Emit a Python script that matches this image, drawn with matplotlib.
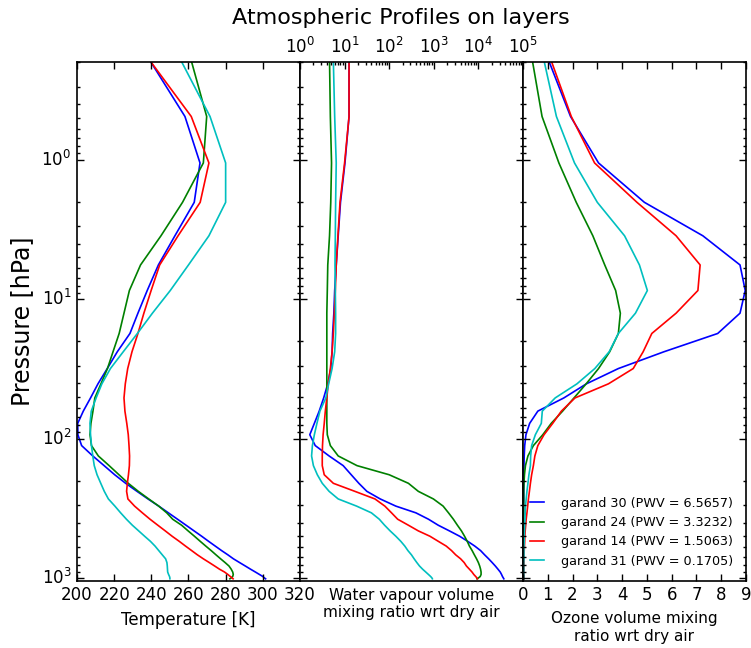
#!/usr/bin/env python3
# Atmospheric profiles (Garand) on RTTOV layers: T, H2O, O3
import numpy as np
import matplotlib
matplotlib.use('Agg')
import matplotlib.pyplot as plt

plt.style.use('classic')
plt.rcParams['figure.facecolor'] = 'white'
plt.rcParams['savefig.facecolor'] = 'white'

# layer mean pressures [hPa]
pressure = [0.195, 0.49, 1.055, 2.02, 3.51, 5.68, 8.66, 12.59, 17.6, 23.8,
            31.4, 40.4, 51.0, 63.4, 77.6, 93.6, 112.0, 132.9, 155.9, 181.2,
            208.7, 238.3, 270.2, 304.1, 339.9, 377.5, 416.9, 457.7, 500.0, 543.5,
            588.1, 633.5, 679.6, 725.9, 772.1, 817.5, 861.4, 902.6, 940.0, 971.7,
            995.7, 1009.3]

names = ['garand 30 (PWV = 6.5657)', 'garand 24 (PWV = 3.3232)',
         'garand 14 (PWV = 1.5063)', 'garand 31 (PWV = 0.1705)']
colors = ['b', 'g', 'r', 'c']

# temperature [K]
temp_g30 = [239.3, 258.1, 266.2, 263.1, 252.7, 243.8, 237.8, 232.8, 228.5, 221.7,
            216.3, 211.3, 207.3, 203.4, 200.4, 200.5, 202.5, 208.5, 214.6, 220.3,
            226.2, 232.3, 238.2, 244.0, 249.2, 254.1, 258.7, 263.0, 267.1, 270.8,
            274.4, 277.8, 281.2, 284.2, 287.5, 290.6, 293.4, 296.0, 298.2, 300.0,
            300.9, 301.5]
temp_g24 = [261.5, 269.8, 268.0, 256.8, 245.2, 234.2, 228.2, 225.3, 222.7, 219.4,
            216.4, 212.9, 209.6, 208.6, 207.5, 207.0, 207.8, 211.5, 217.3, 222.6,
            227.6, 233.0, 238.6, 244.0, 248.3, 251.5, 256.3, 259.8, 263.2, 266.3,
            269.3, 272.2, 274.8, 277.3, 279.7, 281.8, 283.0, 283.8, 284.1, 283.8,
            283.0, 282.3]
temp_g14 = [239.3, 261.5, 271.0, 266.3, 254.4, 244.5, 239.9, 236.0, 232.8, 229.6,
            227.3, 226.0, 225.3, 225.8, 226.8, 227.6, 228.0, 228.3, 228.2, 227.7,
            227.1, 226.7, 227.4, 231.0, 235.2, 239.3, 243.5, 247.5, 251.2, 255.0,
            258.4, 261.7, 264.8, 268.0, 271.2, 274.1, 276.7, 279.4, 281.2, 282.5,
            283.5, 284.0]
temp_g31 = [256.0, 271.6, 280.0, 280.0, 271.0, 260.0, 250.2, 240.6, 232.5, 224.9,
            218.0, 213.4, 210.3, 207.7, 207.0, 207.3, 207.8, 208.5, 209.3, 210.8,
            212.8, 214.7, 216.9, 220.4, 223.5, 226.6, 229.8, 233.2, 236.4, 239.5,
            242.0, 244.0, 245.9, 247.7, 248.4, 248.6, 248.7, 248.8, 249.3, 249.8,
            250.0, 250.0]

# water vapour [ppmv]
wv_g30 = [12.6, 12.6, 10.2, 8.1, 7.2, 6.5, 6.0, 5.75, 5.4, 5.25,
          4.9, 4.2, 3.4, 2.7, 2.1, 1.66, 2.2, 4.5, 9.3, 14.1,
          20.9, 31.6, 63.0, 141.0, 398.0, 760.0, 1260.0, 2240.0, 3800.0, 5750.0,
          8300.0, 11200.0, 13800.0, 17000.0, 20400.0, 24000.0, 27500.0, 30900.0, 33100.0, 34700.0,
          36300.0, 37200.0]
wv_g24 = [4.6, 4.8, 5.1, 4.9, 4.6, 4.2, 4.1, 4.0, 4.0, 4.0,
          4.0, 4.0, 4.0, 4.0, 4.0, 4.1, 4.8, 7.2, 19.0, 100.0,
          270.0, 450.0, 980.0, 1620.0, 2140.0, 2750.0, 3390.0, 4170.0, 4900.0, 5620.0,
          6300.0, 7240.0, 8130.0, 9100.0, 10000.0, 10700.0, 11200.0, 11500.0, 11500.0, 11000.0,
          10000.0, 9300.0]
wv_g14 = [12.6, 12.6, 10.0, 7.9, 7.1, 6.5, 6.2, 5.9, 5.6, 5.25,
          4.8, 4.3, 4.0, 3.7, 3.5, 3.3, 3.2, 3.16, 3.16, 3.5,
          5.6, 17.0, 48.0, 80.0, 113.0, 155.0, 270.0, 450.0, 820.0, 1260.0,
          1900.0, 2500.0, 3100.0, 4000.0, 4800.0, 5400.0, 6300.0, 7200.0, 7900.0, 8700.0,
          9300.0, 9550.0]
wv_g31 = [5.6, 6.0, 6.5, 6.3, 6.2, 6.1, 6.2, 6.3, 6.3, 6.0,
          5.25, 4.4, 3.8, 2.8, 2.4, 2.1, 1.9, 1.82, 2.0, 2.45,
          3.16, 4.5, 7.2, 18.6, 40.0, 60.0, 79.0, 105.0, 141.0, 182.0,
          224.0, 263.0, 316.0, 363.0, 417.0, 479.0, 562.0, 661.0, 760.0, 850.0,
          910.0, 930.0]

# ozone [ppmv]
o3_g30 = [1.04, 1.92, 3.05, 4.9, 7.26, 8.76, 8.97, 8.76, 7.86, 5.69,
          3.85, 2.56, 1.65, 0.6, 0.27, 0.12, 0.07, 0.05, 0.04, 0.03,
          0.03, 0.03, 0.03, 0.02, 0.02, 0.02, 0.02, 0.02, 0.02, 0.02,
          0.02, 0.02, 0.02, 0.02, 0.02, 0.02, 0.02, 0.02, 0.02, 0.02,
          0.02, 0.02]
o3_g24 = [0.38, 0.77, 1.45, 2.15, 2.82, 3.3, 3.74, 3.93, 3.85, 3.5,
          3.05, 2.55, 2.06, 1.6, 1.14, 0.8, 0.42, 0.2, 0.1, 0.06,
          0.04, 0.03, 0.03, 0.03, 0.03, 0.02, 0.02, 0.02, 0.02, 0.02,
          0.02, 0.02, 0.02, 0.02, 0.02, 0.02, 0.02, 0.02, 0.02, 0.02,
          0.02, 0.02]
o3_g14 = [1.14, 1.95, 2.89, 4.6, 6.18, 7.15, 7.06, 6.18, 5.2, 4.85,
          4.45, 3.45, 2.1, 1.55, 1.2, 0.85, 0.6, 0.48, 0.42, 0.35,
          0.3, 0.26, 0.22, 0.19, 0.16, 0.13, 0.11, 0.09, 0.075, 0.07,
          0.06, 0.05, 0.045, 0.04, 0.04, 0.035, 0.03, 0.03, 0.03, 0.03,
          0.03, 0.03]
o3_g31 = [0.85, 1.35, 2.08, 3.0, 4.1, 4.7, 5.02, 4.54, 3.85, 3.48,
          2.9, 2.18, 1.3, 0.78, 0.74, 0.5, 0.35, 0.31, 0.3, 0.24,
          0.2, 0.16, 0.13, 0.1, 0.09, 0.08, 0.07, 0.06, 0.05, 0.05,
          0.04, 0.04, 0.04, 0.04, 0.03, 0.03, 0.03, 0.03, 0.03, 0.03,
          0.03, 0.03]

temps = [temp_g30, temp_g24, temp_g14, temp_g31]
wvs = [wv_g30, wv_g24, wv_g14, wv_g31]
o3s = [o3_g30, o3_g24, o3_g14, o3_g31]


def plotProfiles():
    fig, (ax1, ax2, ax3) = plt.subplots(1, 3, sharey=True, figsize=(7.51, 6.48), dpi=100)
    fig.subplots_adjust(left=0.1025, right=0.9933, bottom=0.104, top=0.904, wspace=0)
    fig.suptitle('Atmospheric Profiles on layers', fontsize=16, x=0.534, y=0.988)

    for i in range(4):
        ax1.plot(temps[i], pressure, color=colors[i], lw=1.2, label=names[i])
        ax2.plot(wvs[i], pressure, color=colors[i], lw=1.2, label=names[i])
        ax3.plot(o3s[i], pressure, color=colors[i], lw=1.2, label=names[i])

    ax1.set_yscale('log')
    ax1.set_ylim(1040, 0.2)
    ax1.set_ylabel('Pressure [hPa]', fontsize=17)

    ax1.set_xlim(200, 320)
    ax1.set_xticks(np.arange(200, 321, 20))
    ax1.set_xlabel('Temperature [K]', fontsize=12)

    ax2.set_xscale('log')
    ax2.set_xlim(1, 1e5)
    ax2.set_xlabel('Water vapour volume\nmixing ratio wrt dry air', fontsize=11)

    ax3.set_xlim(0, 9)
    ax3.set_xticks(np.arange(0, 10, 1))
    ax3.set_xlabel('Ozone volume mixing\nratio wrt dry air', fontsize=11)

    for ax in (ax1, ax2, ax3):
        ax.tick_params(which='both', direction='in', top=True, bottom=True,
                       left=True, right=True, width=1, labelsize=12)
        ax.tick_params(which='major', length=5)
        ax.tick_params(which='minor', length=2.5)
        for s in ax.spines.values():
            s.set_linewidth(1.2)
    # water vapour ticks only along the top
    ax2.tick_params(which='both', bottom=False, labelbottom=False, labeltop=True)

    ax3.legend(loc='lower right', frameon=False, fontsize=9.2, handlelength=1.7,
               handletextpad=1.0, borderaxespad=0.6)

    plt.savefig('out.png', dpi=100)


if __name__ == "__main__":
    plotProfiles()
